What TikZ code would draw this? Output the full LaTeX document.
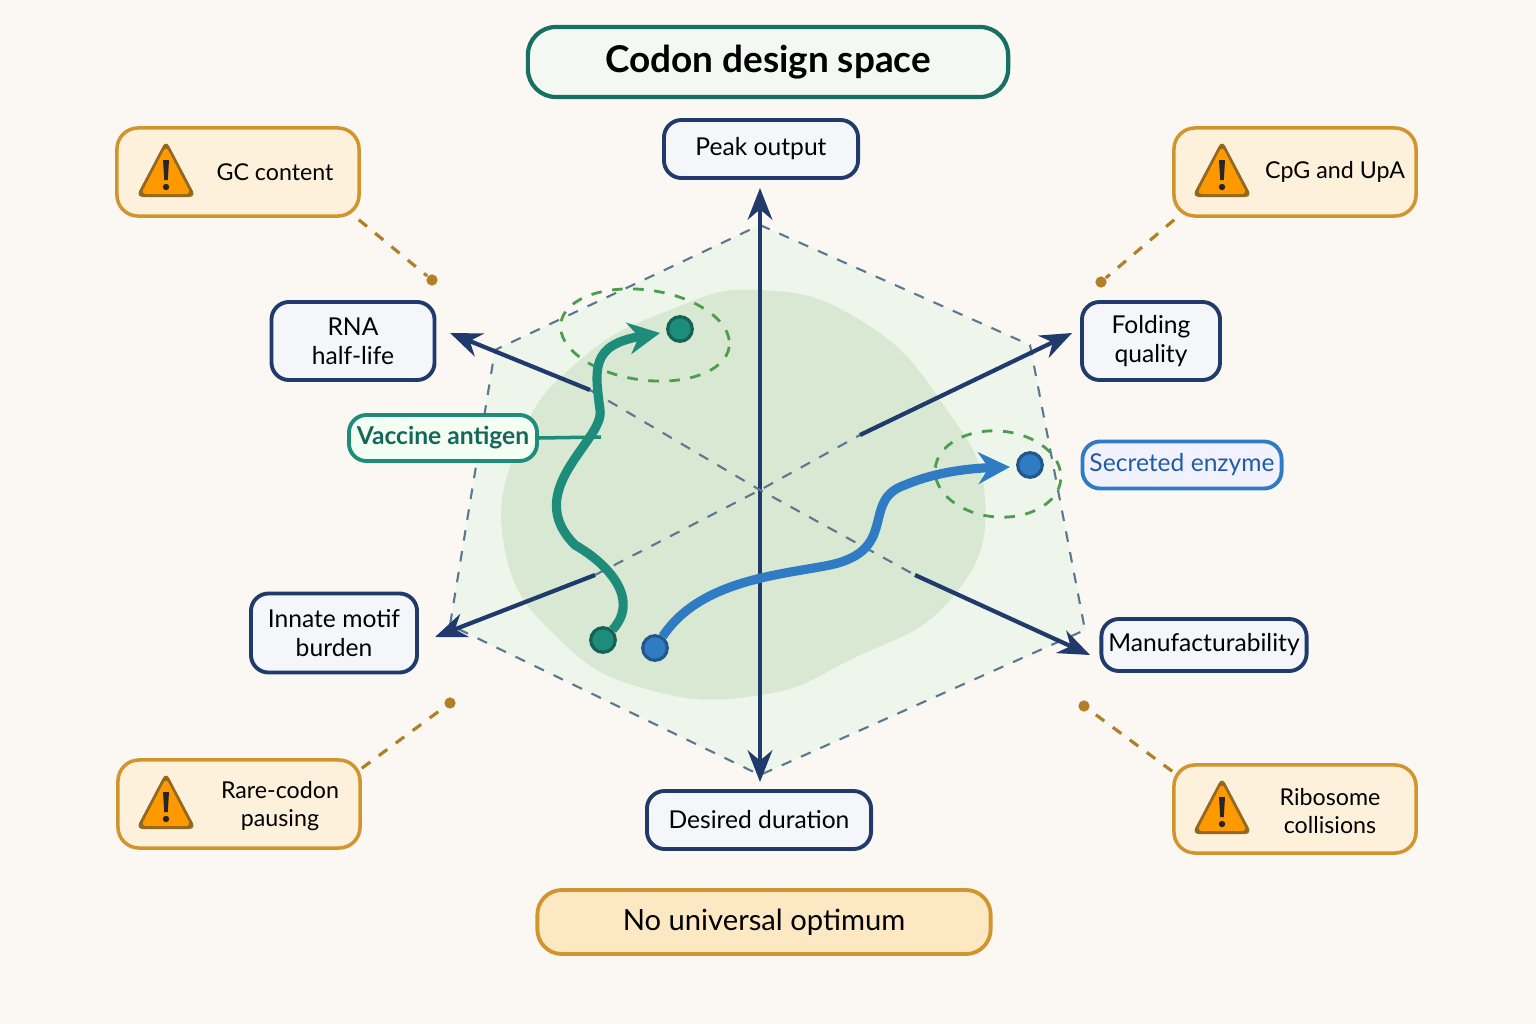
\documentclass[tikz,border=0pt]{standalone}
\usepackage{fontspec}
\setmainfont{Lato}
\usetikzlibrary{positioning}
\usetikzlibrary{calc}
\usetikzlibrary{arrows.meta}
\definecolor{bg}{HTML}{FBF8F3}
\definecolor{navy}{HTML}{1F3A6B}
\definecolor{axisc}{HTML}{24497E}
\definecolor{teal}{HTML}{1E8C7A}
\definecolor{tealtxt}{HTML}{17665A}
\definecolor{bluec}{HTML}{2F7CC4}
\definecolor{bluetxt}{HTML}{1F5CA8}
\definecolor{orng}{HTML}{D2952E}
\definecolor{orfill}{HTML}{FDF1DC}
\definecolor{orbox}{HTML}{FDE8C4}
\definecolor{blob}{HTML}{D9E8D2}
\definecolor{hexc}{HTML}{5A7890}
\definecolor{boxf}{HTML}{F4F6FA}
\tikzset{%
  ax/.style = {navy,line width=1.2pt,-{Stealth[length=9pt,width=7pt]}},
  axd/.style = {hexc,line width=0.6pt,dashed},
  lbl/.style = {rectangle,draw=navy,line width=1.1pt,rounded corners=5pt,
        fill=boxf,align=center,font=\fontsize{7}{8.2}\selectfont,inner sep=2pt},
  warn/.style = {rectangle,draw=orng,line width=1pt,rounded corners=6pt,
        fill=orfill,minimum width=2.42cm,minimum height=0.88cm},
  wtxt/.style = {align=center,font=\fontsize{6.6}{8.2}\selectfont},
  lead/.style = {orng!85!black,line width=0.9pt,dashed},
  ldot/.style = {circle,fill=orng!85!black,inner sep=0pt,minimum size=3.2pt},
  pdot/.style = {circle,draw=#1!70!black,line width=0.9pt,fill=#1,inner sep=0pt,minimum size=7pt}
}
\newcommand{\warnicon}[1]{%
  \fill[orng!70!black,rounded corners=2pt] ($(#1)+(0,-32)$) -- ($(#1)+(30,25)$) -- ($(#1)+(-30,25)$) -- cycle;
  \fill[orange!80!yellow,rounded corners=1.5pt] ($(#1)+(0,-26)$) -- ($(#1)+(25,22)$) -- ($(#1)+(-25,22)$) -- cycle;
  \fill[black!85] ($(#1)+(-3,-12)$) -- ($(#1)+(3,-12)$) -- ($(#1)+(1.8,8)$) -- ($(#1)+(-1.8,8)$) -- cycle;
  \fill[black!85] ($(#1)+(0,15)$) circle (3.2);
}
\begin{document}
\begin{tikzpicture}[x=0.01cm,y=-0.01cm]
\fill[bg] (0,0) rectangle (1536,1024);
\useasboundingbox (0,0) rectangle (1536,1024);
% hexagon and blob
\fill[blob!45] (760,225) -- (1030,345) -- (1085,630) -- (760,775) -- (450,625) -- (495,350) -- cycle;
\fill[blob] plot[smooth cycle,tension=0.8] coordinates {(760,290) (860,320) (940,400) (985,500) (950,600) (850,660) (760,695) (650,690) (560,640) (505,550) (520,440) (580,360) (670,310)};
\draw[axd] (760,225) -- (1030,345) -- (1085,630) -- (760,775) -- (450,625) -- (495,350) -- cycle;
% axes
\coordinate (c) at (760,490);
\draw[ax,{Stealth[length=9pt,width=7pt]}-{Stealth[length=9pt,width=7pt]}] (760,188) -- (760,782);
\draw[axd] (595,575) -- (c) -- (860,435);
\draw[axd] (590,390) -- (c) -- (915,575);
\draw[ax] (590,390) -- (450,333);
\draw[ax] (915,575) -- (1090,655);
\draw[ax] (860,435) -- (1072,333);
\draw[ax] (595,575) -- (435,637);
% title boxes
\node[rectangle,draw=teal!80!black,line width=1.2pt,rounded corners=8pt,fill=blob!30,
  minimum width=4.8cm,minimum height=0.7cm,font=\fontsize{10.5}{12}\selectfont\bfseries] (title) at (768,62) {Codon design space};
\node[rectangle,draw=orng,line width=1.1pt,rounded corners=7pt,fill=orbox,
  minimum width=4.53cm,minimum height=0.64cm,font=\fontsize{8.3}{10}\selectfont] (opt) at (764,922) {No universal optimum};
% axis labels
\node[lbl,minimum width=1.94cm,minimum height=0.58cm] (peak) at (761,149) {Peak output};
\node[lbl,minimum width=1.63cm,minimum height=0.78cm] (rna) at (353,341) {RNA\\half-life};
\node[lbl,minimum width=1.38cm,minimum height=0.78cm] (fold) at (1151,341) {Folding\\quality};
\node[lbl,minimum width=1.66cm,minimum height=0.79cm] (innate) at (334,633) {Innate motif\\burden};
\node[lbl,minimum width=2.03cm,minimum height=0.52cm] (manu) at (1204,645) {Manufacturability};
\node[lbl,minimum width=2.24cm,minimum height=0.58cm] (dur) at (759,820) {Desired duration};
% warnings
\node[warn] (gc) at (238,172) {};
\node[warn] (cpg) at (1295,172) {};
\node[warn] (rare) at (239,804) {};
\node[warn] (ribo) at (1295,809) {};
\warnicon{166,172}
\warnicon{1222,172}
\warnicon{166,804}
\warnicon{1222,809}
\node[wtxt] at (275,172) {GC content};
\node[wtxt] at (1335,172) {CpG and UpA};
\node[wtxt] at (280,806) {Rare-codon\\pausing};
\node[wtxt] at (1330,811) {Ribosome\\collisions};
\node[ldot] (gcd) at (432,280) {};
\node[ldot] (cpgd) at (1101,282) {};
\node[ldot] (rared) at (450,703) {};
\node[ldot] (ribod) at (1084,706) {};
\draw[lead] (gc.south east) ++(-2,2) -- (gcd);
\draw[lead] (cpg.south west) ++(2,2) -- (cpgd);
\draw[lead] (rare.north east) ++(0,10) -- (rared);
\draw[lead] (ribo.north west) ++(0,8) -- (ribod);
% target regions
\draw[green!45!black!70,dashed,line width=0.8pt,rotate around={-8:(645,335)}] (645,335) ellipse (85 and 45);
\draw[green!45!black!70,dashed,line width=0.8pt,rotate around={-5:(998,474)}] (998,474) ellipse (63 and 43);
% paths
\node[pdot=teal] (vs) at (603,640) {};
\node[pdot=teal] (ve) at (680,329) {};
\node[pdot=bluec] (ss) at (655,648) {};
\node[pdot=bluec] (se) at (1030,465) {};
\draw[teal,line width=2.6pt,-{Stealth[length=9pt,width=9pt]}] (vs) .. controls (640,600) and (610,565) .. (575,545)
  .. controls (520,490) and (605,440) .. (600,410) .. controls (595,370) and (590,345) .. (660,333);
\draw[bluec,line width=2.6pt,-{Stealth[length=9pt,width=9pt]}] (ss) .. controls (700,580) and (780,575) .. (830,565)
  .. controls (900,550) and (860,500) .. (905,485) .. controls (940,470) and (980,468) .. (1010,467);
% path labels
\node[lbl,draw=teal,text=tealtxt,fill=white!95!green,minimum width=1.88cm,minimum height=0.46cm,font=\fontsize{7}{8.2}\selectfont\bfseries] (vac) at (443,438) {Vaccine antigen};
\draw[teal,line width=1pt] (vac.east) -- (601,437);
\node[lbl,draw=bluec,text=bluetxt,fill=white!95!blue,minimum width=1.95cm,minimum height=0.47cm,font=\fontsize{7}{8.2}\selectfont] (enz) at (1182,465) {Secreted enzyme};
\end{tikzpicture}
\end{document}
